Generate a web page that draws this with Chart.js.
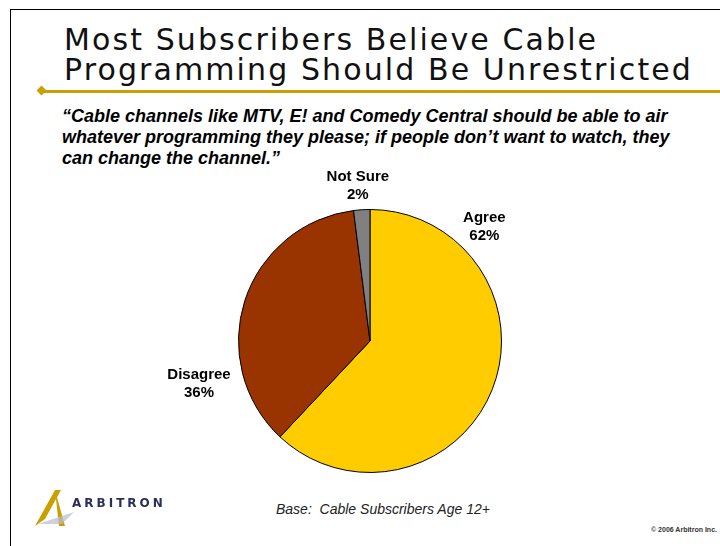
<!DOCTYPE html>
<html lang="en">
<head>
  <meta charset="UTF-8" />
  <title>Most Subscribers Believe Cable Programming Should Be Unrestricted</title>
  <script src="https://cdn.jsdelivr.net/npm/chart.js"></script>
  <style>
    body {
      margin: 0;
      width: 720px;
      height: 546px;
      position: relative;
      overflow: hidden;
      background: #fff;
      font-family: "Liberation Sans", Arial, sans-serif;
    }
    .frame-top {
      position: absolute; left: 10px; top: 9px; width: 710px; height: 0;
      border-top: 1px solid #000;
    }
    .frame-left {
      position: absolute; left: 10px; top: 9px; width: 0; height: 537px;
      border-left: 1px solid #000;
    }
    .title {
      position: absolute; left: 64px; top: 25px;
      font-family: "DejaVu Sans", Verdana, sans-serif;
      font-size: 30px; line-height: 30px; letter-spacing: 2.1px; color: #111;
      white-space: nowrap;
    }
    .rule {
      position: absolute; left: 42px; top: 90px; width: 678px; height: 3px;
      background: #c9a000;
    }
    .diamond {
      position: absolute; left: 38px; top: 87px; width: 7px; height: 7px;
      background: #c9a000; transform: rotate(45deg);
    }
    .quote {
      position: absolute; left: 62px; top: 106px;
      font-weight: bold; font-style: italic; font-size: 18px; line-height: 21px;
      color: #000; white-space: nowrap;
    }
    .chart-box {
      position: absolute; left: 150px; top: 160px; width: 440px; height: 340px;
    }
    .base {
      position: absolute; left: 276px; top: 501px;
      font-style: italic; font-size: 14px; color: #222;
    }
    .copy {
      position: absolute; left: 651px; top: 526px;
      font-weight: bold; font-size: 7px; color: #333; white-space: nowrap;
    }
    .logo { position: absolute; left: 30px; top: 486px; }
  </style>
</head>
<body>
  <div class="frame-top"></div>
  <div class="frame-left"></div>
  <div class="title">Most Subscribers Believe Cable<br>Programming Should Be Unrestricted</div>
  <div class="rule"></div>
  <div class="diamond"></div>
  <div class="quote">“Cable channels like MTV, E! and Comedy Central should be able to air<br>whatever programming they please; if people don’t want to watch, they<br>can change the channel.”</div>

  <div class="chart-box"><canvas id="pie"></canvas></div>

  <svg class="logo" width="150" height="46" viewBox="0 0 150 46">
    <path d="M5 40 L25 4 L31 4 L15 33 Z" fill="#c9a000" />
    <path d="M25 4 L35 40 L29 40 Z" fill="#c9a000" />
    <path d="M8 38 L44 26 L32 38 Z" fill="#b8bcd0" opacity="0.7" />
    <text x="42" y="21" font-family="DejaVu Sans, sans-serif" font-weight="bold"
          font-size="12" letter-spacing="3" fill="#2b2f5a">ARBITRON</text>
  </svg>

  <div class="base">Base:&nbsp; Cable Subscribers Age 12+</div>
  <div class="copy">© 2006 Arbitron Inc.</div>

  <script>
    const categories = ["Agree", "Disagree", "Not Sure"];
    const percents = [62, 36, 2];
    const sliceColors = ["#ffcc00", "#993300", "#808080"];

    // label placement around the pie: angle clockwise from 12 o'clock, distance in radii
    const labelSpots = [
      { angle: 45, dist: 1.23 },
      { angle: 256, dist: 1.34 },
      { angle: -4.5, dist: 1.18 }
    ];

    const outsideLabels = {
      id: "outsideLabels",
      afterDatasetsDraw(chart) {
        const ctx = chart.ctx;
        const arcs = chart.getDatasetMeta(0).data;
        ctx.save();
        ctx.font = "bold 15px 'Liberation Sans', Arial, sans-serif";
        ctx.fillStyle = "#000";
        ctx.textAlign = "center";
        ctx.textBaseline = "middle";
        arcs.forEach((arc, i) => {
          const a = labelSpots[i].angle * Math.PI / 180;
          const r = arc.outerRadius * labelSpots[i].dist;
          const x = arc.x + Math.sin(a) * r;
          const y = arc.y - Math.cos(a) * r;
          ctx.fillText(categories[i], x, y - 9);
          ctx.fillText(percents[i] + "%", x, y + 9);
        });
        ctx.restore();
      }
    };

    new Chart(document.getElementById("pie"), {
      type: "pie",
      data: {
        labels: categories,
        datasets: [{
          data: percents,
          backgroundColor: sliceColors,
          borderColor: "#000",
          borderWidth: 1
        }]
      },
      options: {
        responsive: true,
        maintainAspectRatio: false,
        animation: false,
        layout: { padding: { left: 88, right: 88, top: 49, bottom: 27 } },
        plugins: {
          legend: { display: false },
          tooltip: { enabled: false }
        }
      },
      plugins: [outsideLabels]
    });
  </script>
</body>
</html>
